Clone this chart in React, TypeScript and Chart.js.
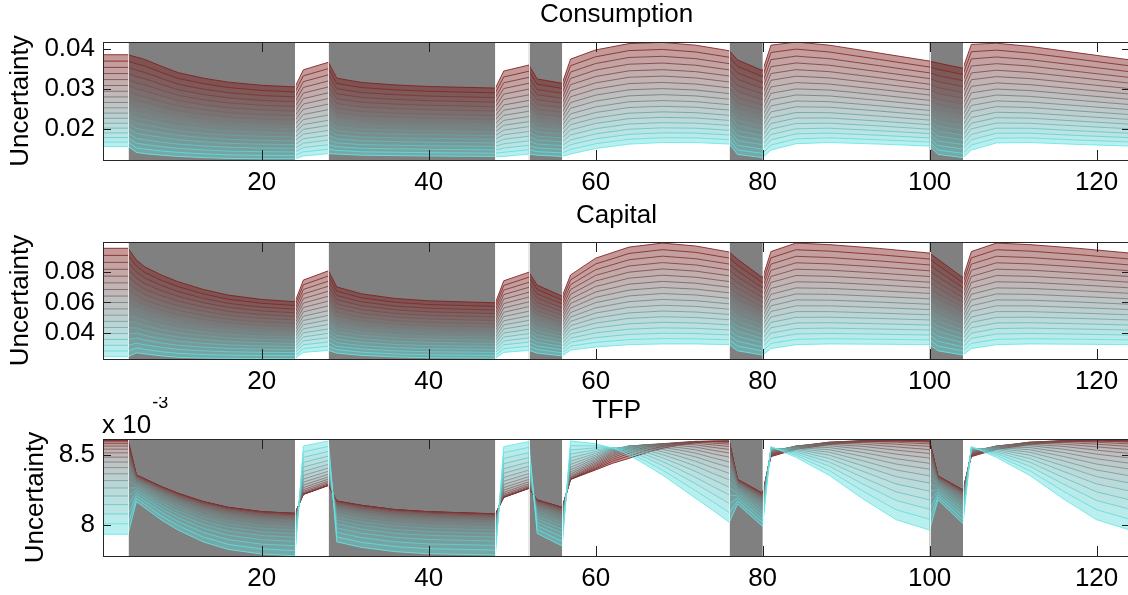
import React, { useEffect, useRef } from "react";
import { Chart, registerables } from "chart.js";

Chart.register(...registerables);

const FONT = '"Liberation Sans", Arial, Helvetica, sans-serif';

// Regime shading (grey periods)
const greyStart = [4, 28, 52, 76, 100];
const greyEnd = [24, 48, 56, 80, 104];
const xTicks = [20, 40, 60, 80, 100, 120];
const fanLineCount = 18;

// Consumption: lowest (cyan), middle and highest (red) fan lines
const consX = [1, 4, 5, 6, 8, 10, 13, 16, 20, 24, 25, 28, 29, 32, 36, 40, 48, 49, 52, 53, 56, 57, 60, 64, 68, 72, 76, 77, 80, 81, 84, 88, 94, 100, 101, 104, 105, 108, 112, 118, 124];
const consLow = [.0155, .0155, .0140, .0137, .0133, .0130, .0127, .0125, .0124, .0124, .0131, .0137, .0136, .0133, .0132, .0131, .0130, .0130, .0136, .0133, .0130, .0136, .0150, .0161, .0165, .0165, .0161, .0135, .0127, .0146, .0162, .0165, .0161, .0156, .0135, .0127, .0146, .0164, .0165, .0160, .0156];
const consMid = [.0259, .0259, .0248, .0244, .0234, .0225, .0217, .0211, .0207, .0205, .0229, .0241, .0222, .0215, .0212, .0210, .0207, .0227, .0237, .0219, .0213, .0244, .0262, .0275, .0278, .0275, .0267, .0242, .0226, .0265, .0277, .0275, .0264, .0252, .0239, .0228, .0266, .0277, .0274, .0264, .0254];
const consHigh = [.0386, .0386, .0380, .0374, .0357, .0341, .0327, .0317, .0309, .0305, .0348, .0367, .0327, .0316, .0310, .0306, .0302, .0345, .0360, .0325, .0314, .0375, .0398, .0414, .0417, .0410, .0396, .0373, .0346, .0410, .0418, .0410, .0390, .0370, .0365, .0352, .0412, .0415, .0407, .0390, .0373];
const consYTicks = [0.02, 0.03, 0.04];

// Capital
const capX = consX;
const capLow = [.0247, .0247, .0272, .0265, .0252, .0243, .0238, .0236, .0235, .0235, .0275, .0288, .0270, .0255, .0245, .0240, .0237, .0275, .0288, .0270, .0252, .0290, .0310, .0325, .0330, .0330, .0325, .0285, .0258, .0300, .0325, .0330, .0328, .0325, .0285, .0258, .0300, .0325, .0330, .0328, .0325];
const capMid = [.0578, .0578, .0555, .0531, .0499, .0474, .0448, .0429, .0415, .0408, .0496, .0531, .0472, .0443, .0424, .0414, .0406, .0494, .0527, .0478, .0434, .0519, .0581, .0623, .0638, .0629, .0608, .0565, .0494, .0596, .0635, .0633, .0620, .0605, .0565, .0494, .0596, .0635, .0633, .0620, .0605];
const capHigh = [.0951, .0951, .0875, .0831, .0777, .0734, .0684, .0647, .0619, .0604, .0745, .0805, .0700, .0655, .0625, .0610, .0597, .0740, .0796, .0712, .0640, .0778, .0887, .0959, .0985, .0966, .0927, .0880, .0760, .0930, .0985, .0975, .0950, .0920, .0880, .0760, .0930, .0985, .0975, .0950, .0920];
const capYTicks = [0.04, 0.06, 0.08];

// TFP (units of 1e-3)
const tfpX = [1, 4, 5, 8, 10, 13, 16, 20, 24, 25, 28, 29, 32, 36, 40, 48, 49, 52, 53, 56, 57, 60, 62, 64, 66, 68, 70, 72, 74, 76, 77, 80, 81, 84, 88, 92, 96, 100, 101, 104, 105, 108, 112, 116, 120, 124];
const tfpLow = [7.934, 7.934, 8.167, 8.036, 7.964, 7.88, 7.826, 7.793, 7.781, 8.564, 8.60, 7.88, 7.84, 7.81, 7.795, 7.786, 8.56, 8.595, 7.94, 7.85, 8.60, 8.58, 8.55, 8.50, 8.43, 8.357, 8.274, 8.19, 8.107, 8.02, 8.15, 7.99, 8.56, 8.483, 8.354, 8.187, 8.038, 7.964, 8.18, 8.01, 8.56, 8.483, 8.354, 8.187, 8.038, 7.964];
const tfpMid = [8.43, 8.43, 8.315, 8.222, 8.168, 8.104, 8.06, 8.029, 8.017, 8.295, 8.353, 8.108, 8.074, 8.044, 8.029, 8.015, 8.278, 8.335, 8.126, 8.065, 8.386, 8.47, 8.53, 8.565, 8.57, 8.56, 8.545, 8.525, 8.495, 8.468, 8.287, 8.174, 8.53, 8.56, 8.56, 8.53, 8.49, 8.46, 8.313, 8.197, 8.53, 8.56, 8.56, 8.53, 8.49, 8.46];
const tfpHigh = [8.607, 8.607, 8.357, 8.274, 8.226, 8.167, 8.126, 8.095, 8.083, 8.219, 8.283, 8.171, 8.14, 8.11, 8.095, 8.079, 8.198, 8.262, 8.179, 8.126, 8.326, 8.393, 8.44, 8.476, 8.515, 8.548, 8.57, 8.588, 8.597, 8.60, 8.326, 8.226, 8.488, 8.54, 8.575, 8.593, 8.60, 8.60, 8.35, 8.25, 8.488, 8.54, 8.575, 8.593, 8.60, 8.60];
const tfpYTicks = [8, 8.5];

const cyanRGB = [100, 232, 232];
const redRGB = [128, 28, 28];

function fanValue(lo: number, mid: number, hi: number, f: number) {
  return lo * 2 * (f - 0.5) * (f - 1) - mid * 4 * f * (f - 1) + hi * 2 * f * (f - 0.5);
}

interface PanelSpec {
  title: string;
  xs: number[];
  lo: number[];
  mid: number[];
  hi: number[];
  yMin: number;
  yMax: number;
  yTicks: number[];
  top: number;
  height: number;
  chartTop: number;
  chartH: number;
  yTitlePad: number;
  titleOffset: number;
  exponent?: boolean;
}

const panels: PanelSpec[] = [
  { title: "Consumption", xs: consX, lo: consLow, mid: consMid, hi: consHigh, yMin: 0.0121, yMax: 0.0418, yTicks: consYTicks, top: 0, height: 200, chartTop: 42, chartH: 118, yTitlePad: 5, titleOffset: 27 },
  { title: "Capital", xs: capX, lo: capLow, mid: capMid, hi: capHigh, yMin: 0.0232, yMax: 0.0992, yTicks: capYTicks, top: 200, height: 197, chartTop: 42, chartH: 117, yTitlePad: 5, titleOffset: 26 },
  { title: "TFP", xs: tfpX, lo: tfpLow, mid: tfpMid, hi: tfpHigh, yMin: 7.779, yMax: 8.614, yTicks: tfpYTicks, top: 397, height: 198, chartTop: 42, chartH: 117, yTitlePad: 20, titleOffset: 28, exponent: true },
];

function fmt(v: number) {
  return String(Number(v.toFixed(4)));
}

function FanPanel({ spec }: { spec: PanelSpec }) {
  const ref = useRef<HTMLCanvasElement | null>(null);
  useEffect(() => {
    if (!ref.current) return;
    const datasets = [];
    for (let i = 0; i < fanLineCount; i++) {
      const f = i / (fanLineCount - 1);
      const col = cyanRGB.map((c, k) => Math.round(c * (1 - f) + redRGB[k] * f)).join(",");
      datasets.push({
        data: spec.xs.map((x, k) => ({ x, y: fanValue(spec.lo[k], spec.mid[k], spec.hi[k], f) })),
        borderColor: `rgba(${col},0.85)`,
        backgroundColor: `rgba(${col},0.45)`,
        borderWidth: 1,
        pointRadius: 0,
        tension: 0,
        fill: i === 0 ? false : "-1",
      });
    }
    const decor = {
      id: "decor",
      beforeDraw(chart: any) {
        const { ctx, chartArea: a, scales } = chart;
        const xs = scales.x;
        ctx.save();
        ctx.fillStyle = "#808080";
        greyStart.forEach((s, i) => {
          const x0 = xs.getPixelForValue(s);
          const x1 = xs.getPixelForValue(greyEnd[i]);
          ctx.fillRect(x0, a.top, x1 - x0, a.bottom - a.top);
        });
        ctx.restore();
      },
      afterDatasetsDraw(chart: any) {
        const { ctx, chartArea: a, scales } = chart;
        const xs = scales.x;
        const ys = scales.y;
        ctx.save();
        ctx.lineWidth = 1;
        ctx.strokeStyle = "rgba(255,255,255,0.8)";
        [...greyStart, ...greyEnd].forEach((s) => {
          const px = Math.round(xs.getPixelForValue(s)) + 0.5;
          ctx.beginPath();
          ctx.moveTo(px, a.top);
          ctx.lineTo(px, a.bottom);
          ctx.stroke();
        });
        ctx.strokeStyle = "#1e1e1e";
        xTicks.forEach((v) => {
          const px = Math.round(xs.getPixelForValue(v)) + 0.5;
          ctx.beginPath();
          ctx.moveTo(px, a.bottom);
          ctx.lineTo(px, a.bottom - 10);
          ctx.moveTo(px, a.top);
          ctx.lineTo(px, a.top + 10);
          ctx.stroke();
        });
        spec.yTicks.forEach((v) => {
          const py = Math.round(ys.getPixelForValue(v)) + 0.5;
          ctx.beginPath();
          ctx.moveTo(a.left, py);
          ctx.lineTo(a.left + 8, py);
          ctx.moveTo(a.right, py);
          ctx.lineTo(a.right - 8, py);
          ctx.stroke();
        });
        ctx.strokeStyle = "#262626";
        ctx.strokeRect(a.left + 0.5, a.top + 0.5, a.right - a.left - 1, a.bottom - a.top);
        ctx.restore();
      },
      afterDraw(chart: any) {
        const { ctx, chartArea: a } = chart;
        ctx.save();
        ctx.fillStyle = "#000";
        ctx.font = `26px ${FONT}`;
        ctx.textAlign = "center";
        ctx.textBaseline = "middle";
        ctx.fillText(spec.title, (a.left + a.right) / 2, a.top - spec.titleOffset);
        if (spec.exponent) {
          ctx.textAlign = "left";
          ctx.textBaseline = "alphabetic";
          const base = "x 10";
          ctx.fillText(base, a.left - 1, a.top - 6);
          const w = ctx.measureText(base).width;
          ctx.font = `18px ${FONT}`;
          ctx.fillText("-3", a.left - 1 + w + 1, a.top - 31);
        }
        ctx.restore();
      },
    };
    const chart = new Chart(ref.current, {
      type: "line",
      data: { datasets: datasets as any },
      options: {
        responsive: false,
        animation: false,
        devicePixelRatio: 1,
        layout: { padding: { top: spec.chartTop, left: 0, right: 1, bottom: 0 } },
        plugins: {
          legend: { display: false },
          tooltip: { enabled: false },
          title: { display: false },
          filler: { propagate: false, drawTime: "beforeDatasetsDraw" } as any,
        },
        scales: {
          x: {
            type: "linear",
            min: 1,
            max: 124,
            grid: { display: false, drawTicks: false },
            border: { display: false },
            ticks: { padding: 7, color: "#000", font: { size: 26, family: FONT }, maxRotation: 0, minRotation: 0, autoSkip: false, callback: (v: any) => String(v) },
            afterBuildTicks: (s: any) => {
              s.ticks = xTicks.map((v) => ({ value: v }));
            },
            afterFit: (s: any) => {
              s.height = spec.height - spec.chartTop - spec.chartH;
            },
          },
          y: {
            type: "linear",
            min: spec.yMin,
            max: spec.yMax,
            grid: { display: false, drawTicks: false },
            border: { display: false },
            ticks: { padding: 8, color: "#000", font: { size: 26, family: FONT }, callback: (v: any) => fmt(Number(v)) },
            afterBuildTicks: (s: any) => {
              s.ticks = spec.yTicks.map((v) => ({ value: v }));
            },
            afterFit: (s: any) => {
              s.width = 103;
            },
            title: { display: true, text: "Uncertainty", color: "#000", font: { size: 26, family: FONT }, padding: { top: spec.yTitlePad, bottom: 0 } },
          },
        },
      } as any,
      plugins: [decor],
    });
    return () => chart.destroy();
  }, [spec]);
  return (
    <div style={{ position: "absolute", left: 0, top: spec.top, width: 1131, height: spec.height }}>
      <canvas ref={ref} width={1131} height={spec.height} style={{ display: "block", width: 1131, height: spec.height }} />
    </div>
  );
}

export default function App() {
  return (
    <div style={{ position: "absolute", left: 0, top: 0, width: 1128, height: 595, overflow: "hidden", background: "#fff" }}>
      {panels.map((p) => (
        <FanPanel key={p.title} spec={p} />
      ))}
    </div>
  );
}
